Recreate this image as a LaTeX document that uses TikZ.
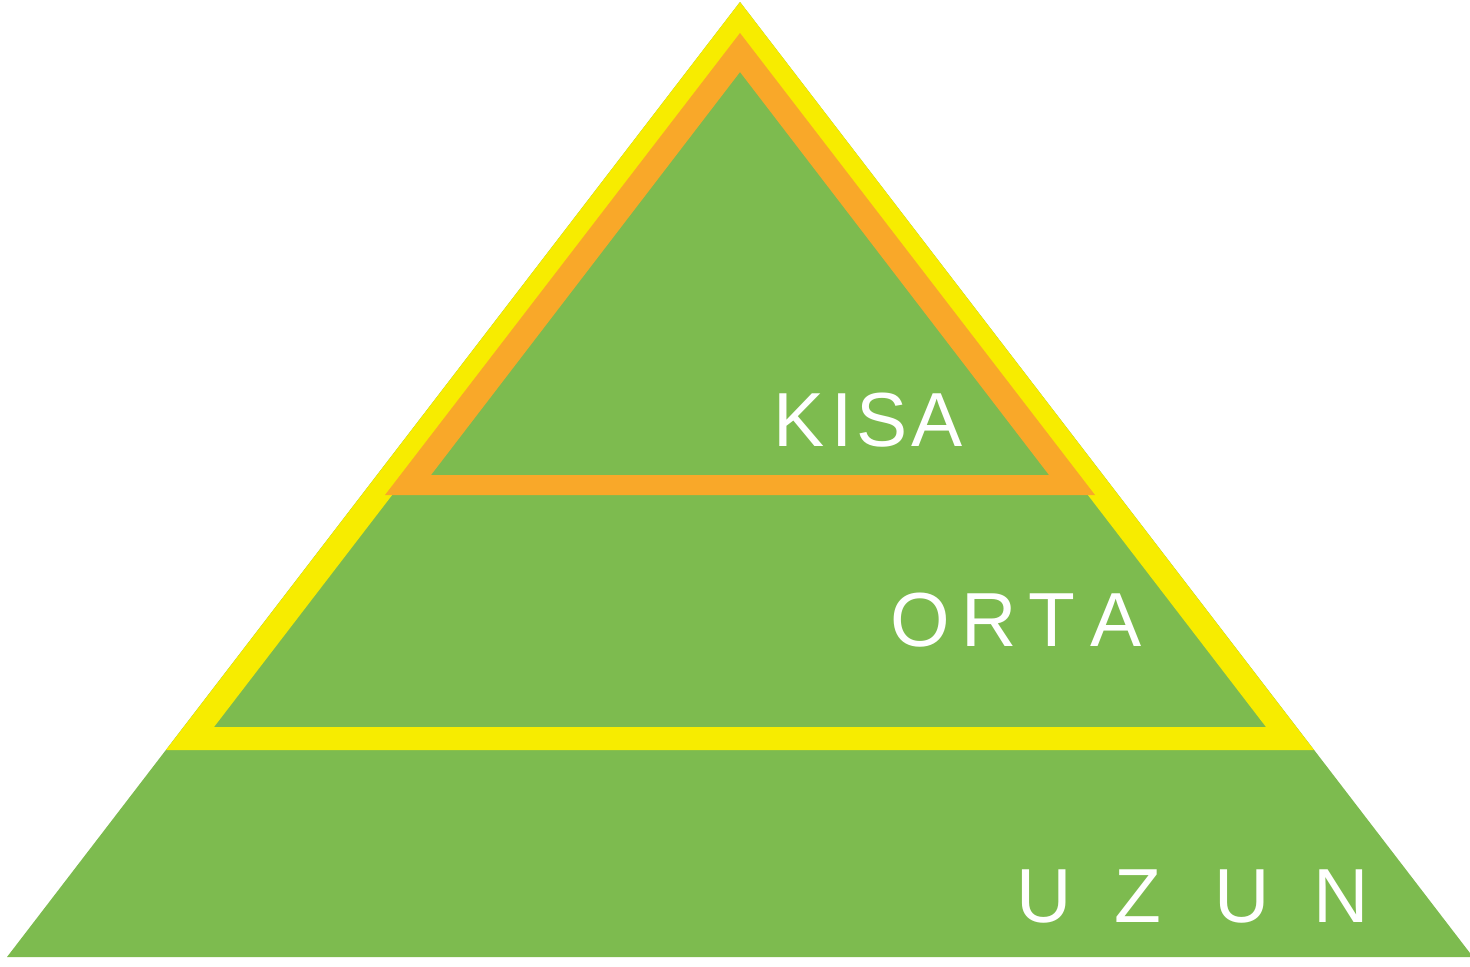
\documentclass[tikz,border=0pt]{standalone}
\usepackage{fontspec}
\setmainfont{Liberation Sans}
\definecolor{pgreen}{RGB}{125,187,79}
\definecolor{pyellow}{RGB}{247,236,0}
\definecolor{porange}{RGB}{249,168,41}
\begin{document}
\begin{tikzpicture}[x=0.01cm,y=-0.01cm,
  lbl/.style={text=white,inner sep=0pt,anchor=base west,font=\fontsize{21.8}{24}\selectfont}]
\useasboundingbox (0,0) rectangle (1470,966);
% base green pyramid
\fill[pgreen] (740,2) -- (7,957) -- (1473,957) -- cycle;
% yellow outline triangle
\fill[pyellow,even odd rule] (740,2) -- (166,750) -- (1314,750) -- cycle
  (740,42) -- (214,727) -- (1266,727) -- cycle;
% orange outline triangle
\fill[porange,even odd rule] (740,33) -- (385,495) -- (1095,495) -- cycle
  (740,72) -- (431,475) -- (1049,475) -- cycle;
% labels
\node[lbl] (kisa) at (773,446) {K\kern0.09em I\kern0.05em S\kern0.05em A};
\node[lbl] (orta) at (890,646) {O\kern0.15em R\kern0.15em T\kern0.2em A};
\node[lbl] (uzun) at (1016,922) {U\kern0.55em Z\kern0.7em U\kern0.57em N};
\end{tikzpicture}
\end{document}
